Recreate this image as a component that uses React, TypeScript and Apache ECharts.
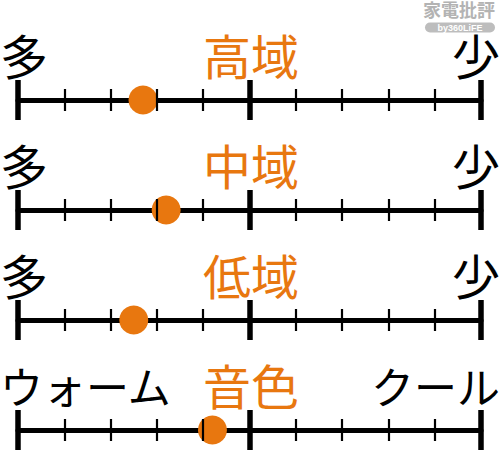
import { useEffect, useRef } from 'react';
import * as echarts from 'echarts';

const categories = ['高域', '中域', '低域', '音色'];
const leftLabels = ['多', '多', '多', 'ウォーム'];
const rightLabels = ['少', '少', '少', 'クール'];
const values = [2.7, 3.2, 2.5, 4.2];
const scaleMin = 0;
const scaleMax = 10;

const ORANGE = '#E8770F';
// Latin primary font keeps the line box tight; CJK glyphs fall back to Noto
const FONT = '"Liberation Sans", "Noto Sans CJK JP", sans-serif';

export default function App() {
  const chartRef = useRef<HTMLDivElement>(null);

  useEffect(() => {
    if (!chartRef.current) return;
    const chart = echarts.init(chartRef.current, undefined, { renderer: 'svg' });

    const left = 18;
    const right = 19;
    const rowY = (i: number) => 100 + 110 * i;

    const grid: any[] = [];
    const xAxis: any[] = [];
    const yAxis: any[] = [];
    const series: any[] = [];
    const graphic: any[] = [];

    const label = (text: string, x: number, y: number, fill: string, align: string, size = 48) => ({
      type: 'text',
      x,
      y,
      style: {
        text,
        fill,
        fontSize: size,
        fontFamily: FONT,
        lineHeight: 36,
        textAlign: align,
        textVerticalAlign: 'middle',
      },
    });
    // kana words are set a little narrower in the reference
    const sideSize = (t: string) => (t.length > 1 ? 43 : 48);

    categories.forEach((name, i) => {
      const y = rowY(i);
      // major ticks + main line
      grid.push({ left, right, top: y - 20, height: 40 });
      // minor ticks
      grid.push({ left, right, top: y - 11, height: 22 });

      xAxis.push({
        type: 'value',
        gridIndex: 2 * i,
        min: scaleMin,
        max: scaleMax,
        interval: 5,
        axisLine: { show: true, onZero: true, lineStyle: { color: '#000', width: 5 } },
        axisTick: { show: false },
        axisLabel: { show: false },
        splitLine: { show: true, lineStyle: { color: '#000', width: 5.5 } },
      });
      xAxis.push({
        type: 'value',
        gridIndex: 2 * i + 1,
        min: scaleMin,
        max: scaleMax,
        interval: 1,
        z: 5,
        axisLine: { show: false },
        axisTick: { show: false },
        axisLabel: { show: false },
        splitLine: { show: true, lineStyle: { color: '#000', width: 2.2 } },
      });
      yAxis.push({ type: 'value', gridIndex: 2 * i, min: -1, max: 1, show: false, splitLine: { show: false } });
      yAxis.push({ type: 'value', gridIndex: 2 * i + 1, min: -1, max: 1, show: false, splitLine: { show: false } });

      series.push({
        type: 'scatter',
        name,
        xAxisIndex: 2 * i,
        yAxisIndex: 2 * i,
        data: [[values[i], 0]],
        symbolSize: 29,
        itemStyle: { color: ORANGE, opacity: 1 },
        z: 2,
      });

      const ty = y - 42;
      graphic.push(label(name, 251, ty, ORANGE, 'center'));
      graphic.push(label(leftLabels[i], 0, ty + (sideSize(leftLabels[i]) < 48 ? 1 : 0), '#000', 'left', sideSize(leftLabels[i])));
      graphic.push(label(rightLabels[i], 500, ty + (sideSize(rightLabels[i]) < 48 ? 1 : 0), '#000', 'right', sideSize(rightLabels[i])));
    });

    // watermark
    graphic.push({
      type: 'text',
      x: 459,
      y: 11,
      style: {
        text: '家電批評',
        fill: '#b3b3b3',
        fontSize: 18,
        fontWeight: 'bold',
        fontFamily: FONT,
        textAlign: 'center',
        textVerticalAlign: 'middle',
      },
    });
    graphic.push({
      type: 'rect',
      shape: { x: 425, y: 22.5, width: 70, height: 10, r: 5 },
      style: { fill: '#bdbdbd' },
    });
    graphic.push({
      type: 'text',
      x: 460,
      y: 27.5,
      style: {
        text: 'by360LiFE',
        fill: '#fff',
        fontSize: 9,
        fontWeight: 'bold',
        fontFamily: FONT,
        textAlign: 'center',
        textVerticalAlign: 'middle',
      },
    });

    chart.setOption({
      animation: false,
      backgroundColor: '#fff',
      grid,
      xAxis,
      yAxis,
      series,
      graphic,
    });

    return () => {
      chart.dispose();
    };
  }, []);

  return (
    <div
      ref={chartRef}
      style={{ position: 'fixed', left: 0, top: 0, width: '500px', height: '451px' }}
    />
  );
}
